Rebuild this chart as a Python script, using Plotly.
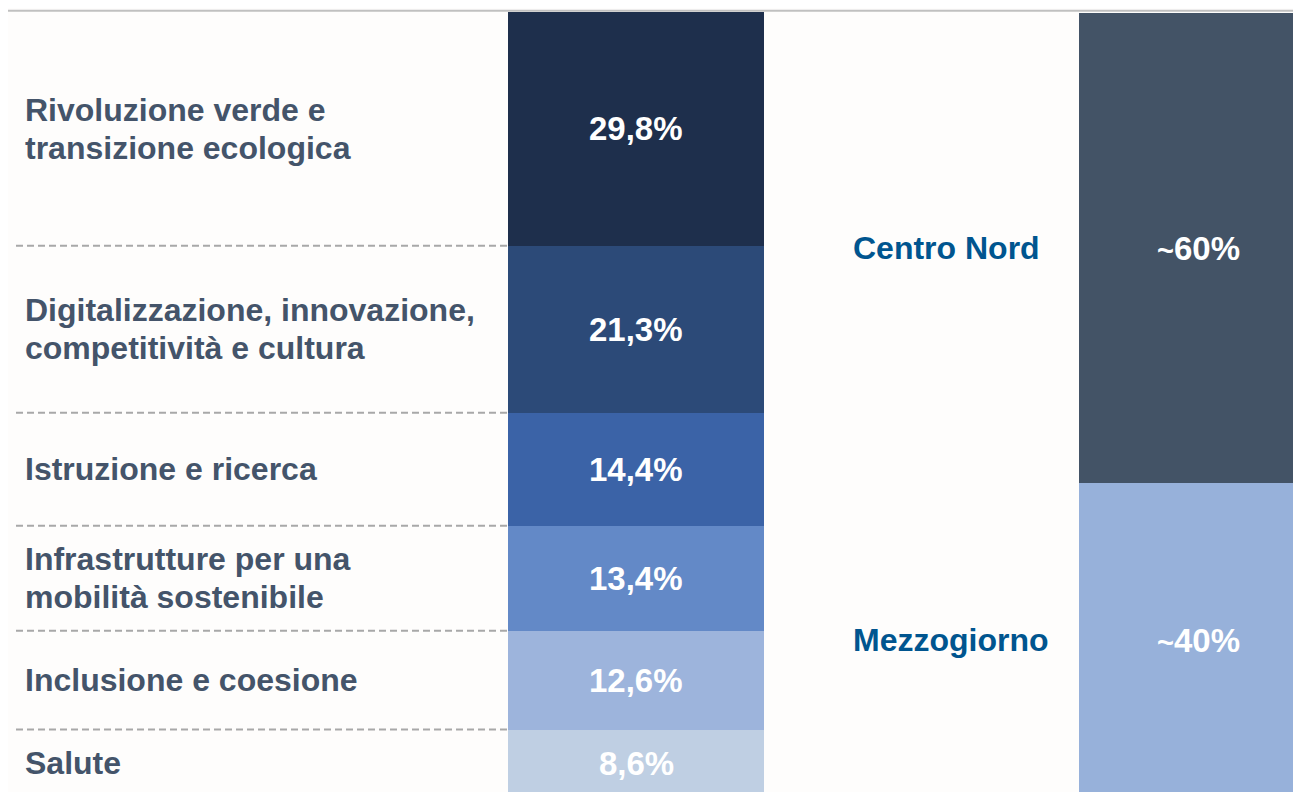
import plotly.graph_objects as go

# ---- data (top to bottom) ----
categories = [
    "Rivoluzione verde e<br>transizione ecologica",
    "Digitalizzazione, innovazione,<br>competitività e cultura",
    "Istruzione e ricerca",
    "Infrastrutture per una<br>mobilità sostenibile",
    "Inclusione e coesione",
    "Salute",
]
shares = [29.8, 21.3, 14.4, 13.4, 12.6, 8.6]
share_labels = ["29,8%", "21,3%", "14,4%", "13,4%", "12,6%", "8,6%"]

regions = ["Centro Nord", "Mezzogiorno"]
region_shares = [60, 40]
region_labels = ["~60%", "~40%"]

# ---- style ----
seg_colors = ["#1e2f4c", "#2c4a78", "#3b63a7", "#6389c7", "#9db4dc", "#bfcfe3"]
region_colors = ["#435366", "#97b1da"]
label_color = "#44546a"
region_text_color = "#00558f"
bg = "#fefdfc"
FONT = "Liberation Sans, Arial, sans-serif"

OFF = 8                      # page body margin
X_RANGE = [OFF, 1301 + OFF]  # x units = screen pixels
PX_PER_UNIT = 785 / 100.1
Y_RANGE = [(797 - 800) / PX_PER_UNIT, (797 - 10) / PX_PER_UNIT]
BAR1_X, BAR1_W = 636, 256
BAR2_X, BAR2_W = 1198, 238
LABEL_X = 23
REGION_TEXT_X = 851
DASH_X0, DASH_X1 = 16, 508
LINE_GAP = 38 / PX_PER_UNIT

fig = go.Figure()

# stacked bar 1 (bottom first)
bases = []
acc = 0.0
for s in reversed(shares):
    bases.append(acc)
    acc += s
bases = list(reversed(bases))

for cat, s, c in reversed(list(zip(categories, shares, seg_colors))):
    fig.add_trace(go.Bar(x=[BAR1_X], y=[s], width=BAR1_W, marker=dict(color=c, line=dict(width=0)),
                         name=cat.replace("<br>", " "), showlegend=False, hoverinfo="skip"))

# stacked bar 2 (bottom first)
r_bases = []
acc = 0.0
for s in reversed(region_shares):
    r_bases.append(acc)
    acc += s
r_bases = list(reversed(r_bases))
for reg, s, c in reversed(list(zip(regions, region_shares, region_colors))):
    fig.add_trace(go.Bar(x=[BAR2_X], y=[s], width=BAR2_W, marker=dict(color=c, line=dict(width=0)),
                         name=reg, showlegend=False, hoverinfo="skip"))

annotations = []
shapes = []
for cat, s, lab, b in zip(categories, shares, share_labels, bases):
    mid = b + s / 2
    lines = cat.split("<br>")
    n = len(lines)
    for i, ln in enumerate(lines):
        yy = mid + ((n - 1) / 2 - i) * LINE_GAP
        annotations.append(dict(x=LABEL_X, y=yy, xref="x", yref="y", text=ln, showarrow=False,
                                xanchor="left", yanchor="middle", align="left",
                                font=dict(family=FONT, size=32, color=label_color, weight="bold")))
    annotations.append(dict(x=BAR1_X, y=mid, xref="x", yref="y", text=lab, showarrow=False,
                            xanchor="center", yanchor="middle",
                            font=dict(family=FONT, size=33, color="white", weight="bold")))
    if b > 0:
        shapes.append(dict(type="line", xref="x", yref="y", x0=DASH_X0, x1=DASH_X1, y0=b, y1=b,
                           line=dict(color="#a8a8a8", width=2, dash="7px,4px"), layer="below"))

for reg, s, lab, b in zip(regions, region_shares, region_labels, r_bases):
    mid = b + s / 2
    annotations.append(dict(x=REGION_TEXT_X, y=mid, xref="x", yref="y", text=reg, showarrow=False,
                            xanchor="left", yanchor="middle",
                            font=dict(family=FONT, size=32, color=region_text_color, weight="bold")))
    txt = '<span style="font-size:29px">' + lab[0] + '</span>' + lab[1:]
    annotations.append(dict(x=BAR2_X, y=mid, xref="x", yref="y", text=txt, showarrow=False,
                            xanchor="center", yanchor="middle",
                            font=dict(family=FONT, size=33, color="white", weight="bold")))

# top rule
shapes.append(dict(type="line", xref="x", yref="paper", x0=6, x1=1301 + OFF, y0=0.999, y1=0.999,
                   line=dict(color="#c0c0c0", width=2), layer="below"))

fig.update_layout(
    width=1301, height=792,
    margin=dict(l=0, r=0, t=2, b=0),
    paper_bgcolor=bg, plot_bgcolor=bg,
    barmode="stack",
    showlegend=False,
    xaxis=dict(range=X_RANGE, visible=False, fixedrange=True),
    yaxis=dict(range=Y_RANGE, visible=False, fixedrange=True),
    annotations=annotations,
    shapes=shapes,
)

fig.write_html("out.html", config={"displayModeBar": False})
